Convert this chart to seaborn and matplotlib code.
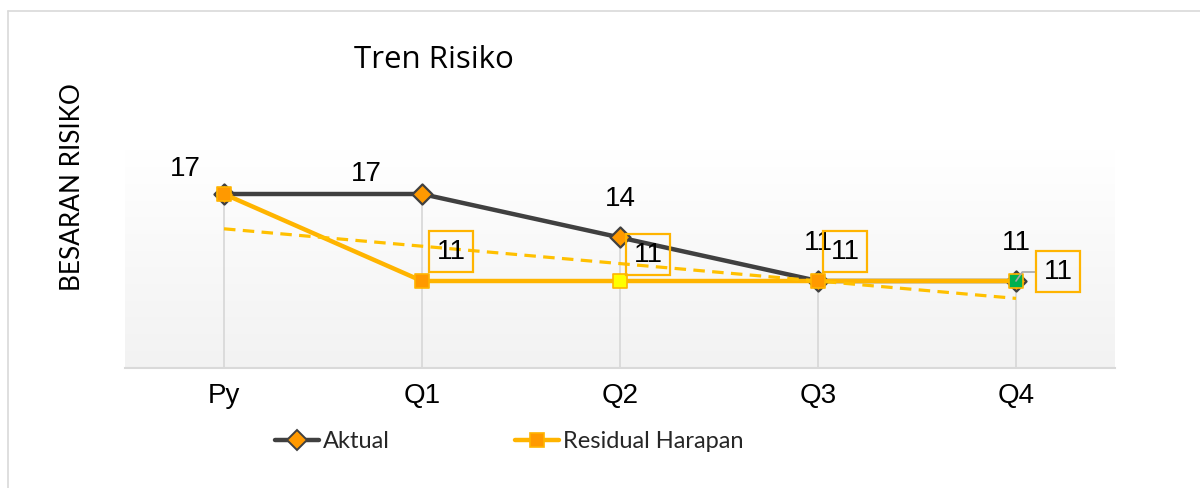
import numpy as np
import pandas as pd
import matplotlib
matplotlib.use("Agg")
import matplotlib.pyplot as plt
import seaborn as sns
from matplotlib.lines import Line2D
from matplotlib.colors import LinearSegmentedColormap

# ---- data ----
categories = ["Py", "Q1", "Q2", "Q3", "Q4"]
aktual = [17, 17, 14, 11, 11]
residual = [17, 11, 11, 11, 11]
residual_marker_colors = ["#FF9900", "#FF9900", "#FFFF00", "#FF9900", "#00B050"]
series_names = ["Aktual", "Residual Harapan"]
title_text = "Tren Risiko"
ylabel_text = "BESARAN RISIKO"

sns.set_theme(style="white")
plt.rcParams["font.family"] = ["Liberation Sans", "DejaVu Sans"]
label_font = ["Lato", "DejaVu Sans"]
title_font = ["Open Sans", "DejaVu Sans"]

W, H = 1200, 488
fig = plt.figure(figsize=(12, 4.88), dpi=100)
fig.patch.set_facecolor("white")
ax = fig.add_axes([125 / W, 1 - 368 / H, 990 / W, (368 - 150.5) / H])

x = np.arange(len(categories))
df = pd.DataFrame({"x": x, series_names[0]: aktual, series_names[1]: residual})

# gradient background
cmap = LinearSegmentedColormap.from_list("g", ["#F2F2F2", "#FFFFFF"])
ax.imshow(np.linspace(0, 1, 256).reshape(-1, 1), extent=[0, 1, 0, 1],
          transform=ax.transAxes, aspect="auto", cmap=cmap, origin="lower", zorder=0)

ymin = 5
# drop lines
ax.vlines(x, ymin, np.maximum(aktual, residual), color="#D9D9D9", lw=1.3, zorder=1)

# Aktual
sns.lineplot(data=df, x="x", y=series_names[0], color="#404040", lw=3.2, ax=ax,
             zorder=3, sort=False)
ax.scatter(x, aktual, marker="D", s=105, color="#FF9900", edgecolor="#404040",
           linewidth=1.6, zorder=4)

# Residual
sns.lineplot(data=df, x="x", y=series_names[1], color="#FFB400", lw=3.2, ax=ax,
             zorder=5, sort=False)
# trendline
sns.regplot(x=x, y=np.array(residual, dtype=float), ci=None, scatter=False, truncate=True,
            ax=ax, line_kws=dict(color="#FFC000", lw=2.3, ls=(0, (3.6, 2.3)), zorder=6))
ax.scatter(x, residual, marker="s", s=95, color=residual_marker_colors,
           edgecolor="#FFB400", linewidth=1.2, zorder=7)

ax.set_xlim(-0.5, 4.5)
ax.set_ylim(ymin, 20)

# data labels - Aktual
akt_offsets = [(-39, 25), (-56, 20), (0, 38), (0, 38), (0, 38)]
for xi, v, off in zip(x, aktual, akt_offsets):
    ax.annotate(f"{v}", (xi, v), xytext=off, textcoords="offset pixels",
                ha="center", va="center", fontsize=20, color="black", zorder=9)

# data labels - Residual (boxed), first point label not shown
res_offsets = [None, (29, 29), (28, 26), (27, 29), (42, 9)]
for i, (xi, v, off) in enumerate(zip(x, residual, res_offsets)):
    if off is None:
        continue
    kw = {}
    if i == len(x) - 1:
        kw["arrowprops"] = dict(arrowstyle="-", color="#A6A6A6", lw=1.2,
                                connectionstyle="angle,angleA=0,angleB=55,rad=0",
                                shrinkA=0, shrinkB=0, relpos=(0, 0.5))
    ax.annotate(f"{v}", (xi, v), xytext=off, textcoords="offset pixels",
                ha="center", va="center", fontsize=20, color="black", zorder=9,
                bbox=dict(boxstyle="square,pad=0.27", fc="none", ec="#FFB400", lw=1.6),
                **kw)

# axes styling
for s in ["top", "left", "right"]:
    ax.spines[s].set_visible(False)
ax.spines["bottom"].set_color("#D9D9D9")
ax.spines["bottom"].set_linewidth(1.5)
ax.set_yticks([])
ax.set_xticks(x)
ax.set_xticklabels(categories, fontsize=20, color="black")
ax.tick_params(axis="x", length=0, pad=11)
ax.set_xlabel("")
ax.set_ylabel("")
ax.grid(False)

# title & y label
fig.text(434 / W, 1 - 60 / H, title_text, ha="center", va="center", fontsize=22.5,
         family=title_font, color="black")
fig.text(72 / W, 1 - 187 / H, ylabel_text, ha="center", va="center", rotation=90,
         fontsize=18.8, family=label_font, color="black")

# legend
handles = [
    Line2D([], [], color="#404040", lw=3.2, marker="D", markersize=10,
           markerfacecolor="#FF9900", markeredgecolor="#404040", markeredgewidth=1.4),
    Line2D([], [], color="#FFB400", lw=3.2, marker="s", markersize=10,
           markerfacecolor="#FF9900", markeredgecolor="#FFB400", markeredgewidth=1.2),
]
fig.legend(handles, series_names, loc="center", bbox_to_anchor=(509.5 / W, 1 - 442 / H),
           ncol=2, frameon=False, handlelength=1.86, handletextpad=0.17,
           columnspacing=5.3, prop=dict(family=label_font, size=17))

# outer border
fig.add_artist(Line2D([8 / W, 8 / W], [0, 1 - 11 / H], color="#D9D9D9", lw=1.2,
                      transform=fig.transFigure))
fig.add_artist(Line2D([8 / W, 1], [1 - 11 / H, 1 - 11 / H], color="#D9D9D9", lw=1.2,
                      transform=fig.transFigure))

fig.savefig("out.png", dpi=100)
